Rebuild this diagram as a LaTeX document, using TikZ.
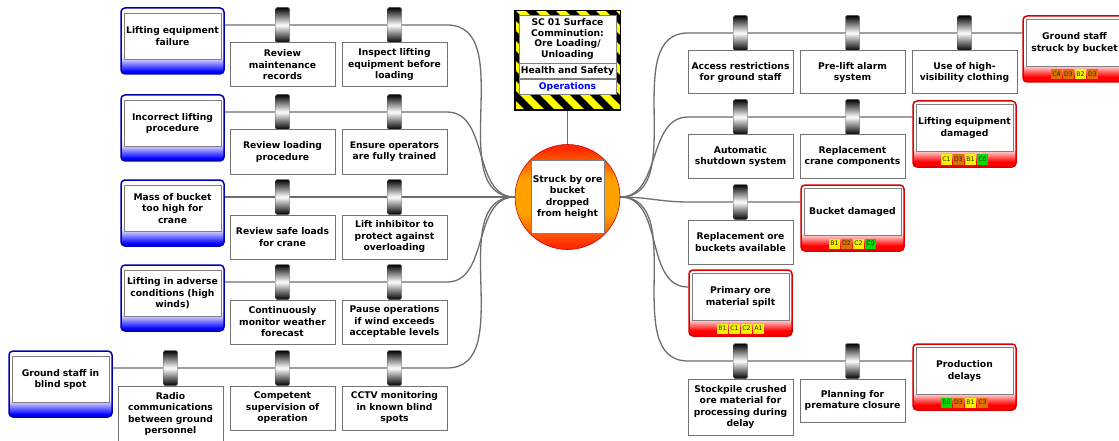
\documentclass[tikz,border=0pt]{standalone}
\usepackage{fontspec}
\setmainfont{DejaVu Sans}
\definecolor{thrblue}{HTML}{0000FF}
\colorlet{thrlight}{thrblue!12!white}
\definecolor{conred}{HTML}{FF0000}
\colorlet{conlight}{conred!8!white}
\definecolor{evred}{HTML}{FF2A00}
\definecolor{evorange}{HTML}{FFA200}
\definecolor{rlow}{HTML}{00DD00}
\definecolor{rmed}{HTML}{F2F200}
\definecolor{rhigh}{HTML}{E07000}
\definecolor{hazyellow}{HTML}{FFFF00}
\pgfdeclareverticalshading{bluefade}{100bp}{color(0bp)=(thrblue); color(27bp)=(thrblue); color(37bp)=(thrlight); color(42bp)=(white); color(100bp)=(white)}
\pgfdeclareverticalshading{redfade}{100bp}{color(0bp)=(conred); color(29bp)=(conred); color(38bp)=(conlight); color(42bp)=(white); color(100bp)=(white)}
\pgfdeclareverticalshading{eventfade}{100bp}{color(0bp)=(evred); color(27bp)=(evred); color(42bp)=(evorange); color(58bp)=(evorange); color(73bp)=(evred); color(100bp)=(evred)}
\pgfdeclarelayer{bg}
\pgfsetlayers{bg,main}
\begin{document}
\begin{tikzpicture}[x=1pt, y=-1pt,
    font=\fontsize{9.2}{11.5}\selectfont\bfseries,
    link/.style={draw=black!57, line width=1.3pt},
    bar/.style={draw=black!70, line width=0.4pt, rounded corners=1.5pt, minimum width=14pt, minimum height=35pt, inner sep=0pt, top color=black, bottom color=black, middle color=white},
    barbox/.style={draw=black!55, fill=white, line width=0.7pt, minimum width=105pt, text width=103pt, align=center, inner sep=0pt, anchor=north},
    threat/.style={draw=blue!70!black, line width=1.5pt, rounded corners=4pt, minimum width=103pt, minimum height=66pt, inner sep=0pt, shade, shading=bluefade},
    conseq/.style={draw=red!85!black, line width=1.5pt, rounded corners=4pt, minimum width=103pt, minimum height=66pt, inner sep=0pt, shade, shading=redfade},
    txtbox/.style={draw=black!50, fill=white, line width=0.6pt, minimum width=97pt, text width=97pt, align=center, inner sep=0pt, anchor=north},
    chip/.style={minimum width=11.5pt, minimum height=10pt, inner sep=0pt, font=\fontsize{6.2}{7}\selectfont, text=black!85}]
    \useasboundingbox (0,0) rectangle (1119,441);
    % Hazard
    \node[draw=black, line width=1pt, fill=hazyellow, minimum width=105pt, minimum height=99pt, inner sep=0pt] (hazard) at (567.5,60.5) {};
    \begin{scope}
        \clip (hazard.south west) rectangle (hazard.north east);
        \foreach \s in {0,20,...,240}
            \draw[line width=7pt] (400+\s,0) -- ++(120,120);
    \end{scope}
    \draw[line width=1pt] (hazard.south west) rectangle (hazard.north east);
    \node[txtbox, anchor=center, minimum height=48pt, font=\fontsize{9.2}{10.5}\selectfont\bfseries] (hztitle) at (567.5,39) {SC 01 Surface\\Comminution:\\Ore Loading/\\Unloading};
    \node[txtbox, minimum height=15pt] (hzarea) at (hztitle.south) {Health and Safety};
    \node[txtbox, minimum height=15pt, text=blue] (hzdept) at (hzarea.south) {Operations};
    % Top event
    \node[circle, minimum size=105pt, inner sep=0pt, draw=red!80!black, line width=0.6pt, shade, shading=eventfade] (event) at (567.5,197) {};
    \node[txtbox, anchor=center, minimum width=73pt, text width=72pt, minimum height=73pt] (eventtxt) at (event) {Struck by ore\\bucket\\dropped\\from height};
    % Threats
    \foreach \n/\x/\y/\txt in {
        t1/172.5/41/{Lifting equipment\\failure},
        t2/172.5/128/{Incorrect lifting\\procedure},
        t3/172.5/213/{Mass of bucket\\too high for\\crane},
        t4/172.5/298/{Lifting in adverse\\conditions (high\\winds)},
        t5/60.5/384/{Ground staff in\\blind spot}}{
        \node[threat] (\n) at (\x,\y) {};
        \node[txtbox, minimum height=46pt] (\n txt) at (\x,\y-28) {\txt};
    }
    % Consequences
    \foreach \n/\x/\y/\txt/\chips in {
        c1/1074.5/49/{Ground staff\\struck by bucket}/{C4/rhigh,D3/rhigh,B2/rmed,D3/rhigh},
        c2/964.5/134/{Lifting equipment\\damaged}/{C1/rmed,D3/rhigh,B1/rmed,C0/rlow},
        c3/852.5/218/{Bucket damaged}/{B1/rmed,D2/rhigh,C2/rmed,C0/rlow},
        c4/740.5/303/{Primary ore\\material spilt}/{B1/rmed,C1/rmed,C2/rmed,A1/rmed},
        c5/964.5/377/{Production\\delays}/{B0/rlow,D3/rhigh,B1/rmed,C3/rhigh}}{
        \node[conseq] (\n) at (\x,\y) {};
        \node[txtbox, minimum height=47pt] (\n txt) at (\x,\y-30) {\txt};
        \foreach \r/\c [count=\i] in \chips
            \node[chip, fill=\c] (\n r\i) at ({\x+(\i-2.5)*12},\y+25.5) {\r};
    }
    % Row ends
    \foreach \i/\y in {1/25, 2/112, 3/197, 4/282, 5/368}
        \coordinate (l\i) at (447,\y);
    \foreach \i/\y in {1/33, 2/117, 3/202, 4/287, 5/361}
        \coordinate (r\i) at (688,\y);
    % Connectors
    \begin{pgfonlayer}{bg}
        \fill[white] (0,0) rectangle (1119,441);
        \draw[link] (hazard.south) -- (event.north);
        \foreach \i in {1,...,5}
            \draw[link] (t\i.east |- l\i) -- (l\i) to[out=0, in=180] (event.west);
        \foreach \i in {1,...,5}
            \draw[link] (event.east) to[out=0, in=180] (r\i) -- (c\i.west |- r\i);
    \end{pgfonlayer}
    % Barriers
    \foreach \n/\x/\y/\h/\txt in {
        b11/282.5/25/44/{Review\\maintenance\\records},
        b12/394.5/25/44/{Inspect lifting\\equipment before\\loading},
        b21/282.5/112/44/{Review loading\\procedure},
        b22/394.5/112/44/{Ensure operators\\are fully trained},
        b31/282.5/197/44/{Review safe loads\\for crane},
        b32/394.5/197/44/{Lift inhibitor to\\protect against\\overloading},
        b41/282.5/282/44/{Continuously\\monitor weather\\forecast},
        b42/394.5/282/44/{Pause operations\\if wind exceeds\\acceptable levels},
        b51/170.5/368/56/{Radio\\communications\\between ground\\personnel},
        b52/282.5/368/44/{Competent\\supervision of\\operation},
        b53/394.5/368/44/{CCTV monitoring\\in known blind\\spots},
        p11/740.5/33/43/{Access restrictions\\for ground staff},
        p12/852.5/33/43/{Pre-lift alarm\\system},
        p13/964.5/33/43/{Use of high-\\visibility clothing},
        p21/740.5/117/43/{Automatic\\shutdown system},
        p22/852.5/117/43/{Replacement\\crane components},
        p31/740.5/202/44/{Replacement ore\\buckets available},
        p51/740.5/361/56/{Stockpile crushed\\ore material for\\processing during\\delay},
        p52/852.5/361/43/{Planning for\\premature closure}}{
        \node[bar] (\n) at (\x,\y) {};
        \node[barbox, minimum height=\h pt] (\n txt) at (\x,\y+17.5) {\txt};
    }
\end{tikzpicture}
\end{document}
